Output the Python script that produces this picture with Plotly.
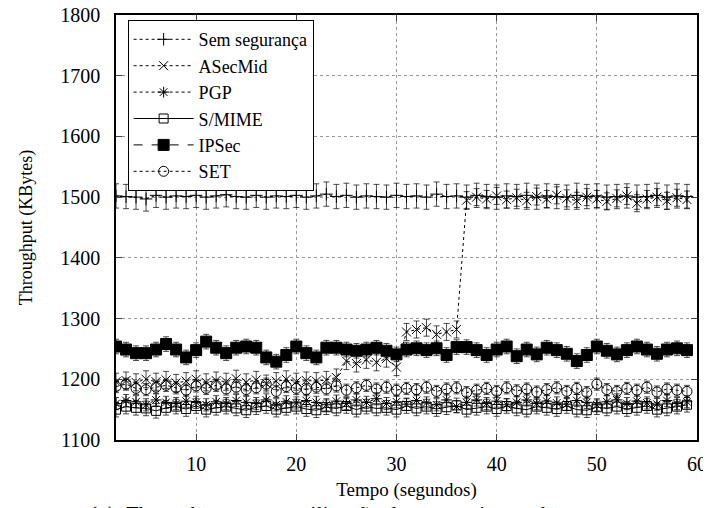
import plotly.graph_objects as go

# Time axis (seconds)
tempo = list(range(2, 60))

sem_seguranca = [
    1502, 1501, 1500, 1497, 1503, 1500, 1502, 1501, 1503, 1500,
    1502, 1504, 1501, 1500, 1503, 1500, 1502, 1501, 1503, 1500,
    1502, 1505, 1501, 1503, 1500, 1502, 1501, 1500, 1503, 1501,
    1502, 1500, 1505, 1501, 1502, 1500, 1503, 1501, 1500, 1502,
    1501, 1503, 1500, 1502, 1501, 1500, 1503, 1501, 1502, 1500,
    1501, 1502, 1500, 1501, 1503, 1500, 1502, 1501,
]
asecmid = [
    1196, 1198, 1195, 1200, 1196, 1199, 1194, 1197, 1200, 1195,
    1198, 1196, 1201, 1195, 1199, 1193, 1197, 1200, 1196, 1198,
    1197, 1199, 1203, 1230, 1226, 1232, 1228, 1234, 1220, 1278,
    1282, 1285, 1274, 1278, 1282, 1495, 1500, 1497, 1502, 1496,
    1499, 1494, 1501, 1497, 1503, 1498, 1494, 1500, 1497, 1493,
    1498, 1502, 1490, 1497, 1500, 1494, 1499, 1496,
]
pgp = [
    1160, 1165, 1163, 1158, 1166, 1162, 1160, 1164, 1162, 1158,
    1163, 1160, 1165, 1162, 1160, 1166, 1158, 1163, 1161, 1165,
    1162, 1158, 1164, 1160, 1166, 1162, 1168, 1160, 1163, 1159,
    1165, 1161, 1158, 1166, 1155, 1162, 1166, 1160, 1164, 1158,
    1162, 1166, 1160, 1164, 1161, 1159, 1165, 1162, 1158, 1163,
    1166, 1160, 1164, 1161, 1159, 1165, 1160, 1163,
]
smime = [
    1150, 1155, 1153, 1152, 1148, 1153, 1155, 1151, 1156, 1150,
    1153, 1155, 1152, 1149, 1154, 1156, 1150, 1153, 1155, 1151,
    1149, 1154, 1152, 1156, 1150, 1155, 1152, 1153, 1150, 1156,
    1152, 1155, 1151, 1154, 1157, 1150, 1153, 1155, 1151, 1156,
    1152, 1150, 1155, 1153, 1151, 1156, 1150, 1149, 1154, 1152,
    1155, 1151, 1153, 1156, 1150, 1152, 1155, 1158,
]
ipsec = [
    1254, 1249, 1243, 1243, 1249, 1258, 1249, 1236, 1248, 1262,
    1252, 1243, 1252, 1254, 1252, 1236, 1229, 1240, 1254, 1243,
    1236, 1252, 1252, 1249, 1247, 1249, 1252, 1247, 1241, 1249,
    1251, 1248, 1251, 1240, 1253, 1253, 1248, 1240, 1249, 1254,
    1238, 1249, 1241, 1252, 1248, 1242, 1230, 1240, 1254, 1247,
    1241, 1248, 1254, 1249, 1242, 1249, 1251, 1248,
]
set_vals = [
    1188, 1192, 1185, 1183, 1187, 1190, 1186, 1182, 1189, 1185,
    1190, 1184, 1187, 1183, 1186, 1192, 1180, 1188, 1185, 1183,
    1187, 1184, 1189, 1182, 1186, 1190, 1184, 1187, 1182, 1185,
    1183, 1187, 1180, 1184, 1186, 1178, 1182, 1185, 1180, 1186,
    1181, 1184, 1179, 1183, 1186, 1180, 1185, 1178, 1192, 1183,
    1180, 1185, 1182, 1187, 1179, 1184, 1182, 1180,
]

series_names = ["Sem segurança", "ASecMid", "PGP", "S/MIME", "IPSec", "SET"]
series_values = [sem_seguranca, asecmid, pgp, smime, ipsec, set_vals]
series_err = [20, 14, 10, 12, 12, 10]
series_symbol = ["cross-thin", "x-thin", "asterisk", "square-open", "square", "circle-open"]
series_dash = ["dot", "dot", "dot", "solid", "dash", "dot"]
series_msize = [9, 9, 9, 9, 11, 10]

x_ticks = [10, 20, 30, 40, 50, 60]
y_ticks = [1100, 1200, 1300, 1400, 1500, 1600, 1700, 1800]

FONT = "Liberation Serif"

fig = go.Figure()
for name, vals, err, sym, dash, ms in zip(series_names, series_values, series_err,
                                          series_symbol, series_dash, series_msize):
    fig.add_trace(go.Scatter(
        x=tempo, y=vals, name=name, mode="lines+markers",
        line=dict(color="black", width=1, dash=dash),
        marker=dict(symbol=sym, size=ms, color="black",
                    line=dict(color="black", width=1)),
        error_y=dict(type="constant", value=err, color="rgba(0,0,0,0.7)",
                     thickness=1, width=3),
    ))

# The page places the figure 8 px in from the top-left corner, so the
# figure is 8 px smaller on each side to keep the same on-screen layout.
fig.update_layout(
    width=703, height=500,
    margin=dict(l=108, r=14, t=7, b=68, autoexpand=False),
    paper_bgcolor="white", plot_bgcolor="white",
    font=dict(family=FONT, size=20, color="black"),
    showlegend=True,
    legend=dict(
        x=0.02, y=0.988, xanchor="left", yanchor="top",
        bgcolor="white", bordercolor="black", borderwidth=1,
        font=dict(family=FONT, size=18, color="black"), itemwidth=60,
        tracegroupgap=0,
    ),
    annotations=[dict(
        text="<i>(a)  Throughput com a utilização dos mecanismos de segurança</i>",
        xref="paper", yref="paper", x=0.436, y=-0.172,
        xanchor="center", yanchor="middle", showarrow=False,
        font=dict(family=FONT, size=22, color="black"),
    )],
)
fig.update_xaxes(
    range=[2, 60], tickvals=x_ticks, ticks="inside", ticklen=6,
    showline=True, linecolor="black", linewidth=1.5, mirror="allticks",
    showgrid=True, gridcolor="#999999", griddash="dot", gridwidth=1,
    zeroline=False, ticklabelstandoff=5, automargin=False,
    ticklabeloverflow="allow",
    tickfont=dict(family=FONT, size=20, color="black"),
    title=dict(text="Tempo (segundos)", standoff=9,
               font=dict(family=FONT, size=19, color="black")),
)
fig.update_yaxes(
    range=[1100, 1800], tickvals=y_ticks, ticks="inside", ticklen=6,
    showline=True, linecolor="black", linewidth=1.5, mirror="allticks",
    showgrid=True, gridcolor="#999999", griddash="dot", gridwidth=1,
    zeroline=False, ticklabelstandoff=10, automargin=False,
    ticklabeloverflow="allow",
    tickfont=dict(family=FONT, size=20, color="black"),
    title=dict(text="Throughput (KBytes)", standoff=23,
               font=dict(family=FONT, size=18, color="black")),
)

fig.write_html("out.html")
